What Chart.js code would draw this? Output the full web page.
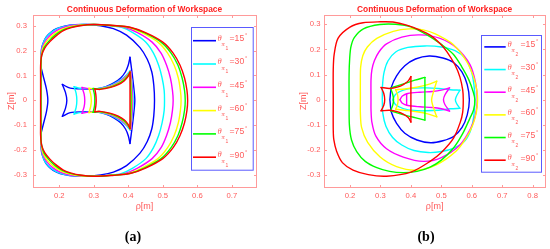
<!DOCTYPE html>
<html><head><meta charset="utf-8">
<script src="https://cdn.jsdelivr.net/npm/chart.js@4/dist/chart.umd.min.js"></script>
<style>
html,body{margin:0;padding:0;background:#fff}
body{width:550px;height:249px;position:relative;overflow:hidden}
#ca{position:absolute;left:0;top:0}
#cb{position:absolute;left:275px;top:0}
.cap{position:absolute;top:229px;width:40px;text-align:center;font:bold 14px "Liberation Serif","DejaVu Serif",serif;color:#000}
</style></head><body>
<canvas id="ca" width="275" height="249"></canvas>
<canvas id="cb" width="275" height="249"></canvas>
<div class="cap" style="left:113px">(a)</div>
<div class="cap" style="left:406px">(b)</div>
<script>
// ---------- tick labels ----------
const xTicksA = [0.2, 0.3, 0.4, 0.5, 0.6, 0.7];
const xTicksB = [0.2, 0.3, 0.4, 0.5, 0.6, 0.7, 0.8];
const yTicks = [-0.3, -0.2, -0.1, 0, 0.1, 0.2, 0.3];
const angles = [15, 30, 45, 60, 75, 90];

// ---------- panel (a): theta_pi1 ----------
const a15 = [
 [0.147,0.134],[0.147,0.17],[0.149,0.209],[0.155,0.235],[0.163,0.256],[0.175,0.273],[0.192,0.288],[0.215,0.298],[0.245,0.304],[0.28,0.305],[0.32,0.3],[0.357,0.288],[0.395,0.262],[0.434,0.212],[0.455,0.165],[0.468,0.115],[0.474,0.06],[0.476,0],[0.474,-0.06],[0.468,-0.115],[0.455,-0.165],[0.434,-0.212],[0.395,-0.262],[0.357,-0.288],[0.32,-0.3],[0.28,-0.305],[0.245,-0.304],[0.215,-0.298],[0.192,-0.288],[0.175,-0.273],[0.163,-0.256],[0.155,-0.235],[0.149,-0.209],[0.147,-0.17],[0.147,-0.134], null,
 [0.147,-0.134],[0.155,-0.09],[0.163,-0.045],[0.167,0],[0.163,0.045],[0.155,0.09],[0.147,0.134], null,
 [0.209,0.064],[0.218,0.032],[0.222,0],[0.218,-0.032],[0.209,-0.064], null,
 [0.209,-0.064],[0.232,-0.049],[0.27,-0.046],[0.306,-0.046],[0.335,-0.055],[0.358,-0.07],[0.378,-0.09],[0.392,-0.115],[0.4,-0.142],[0.405,-0.173], null,
 [0.405,-0.173],[0.411,-0.11],[0.416,-0.05],[0.419,0],[0.416,0.05],[0.411,0.11],[0.405,0.173], null,
 [0.405,0.173],[0.4,0.142],[0.392,0.115],[0.378,0.09],[0.358,0.07],[0.335,0.055],[0.306,0.046],[0.27,0.046],[0.232,0.049],[0.209,0.064]
];
const a30 = [
 [0.148,0],[0.148,0.1],[0.148,0.16],[0.149,0.2],[0.153,0.228],[0.162,0.252],[0.178,0.274],[0.2,0.291],[0.23,0.301],[0.265,0.305],[0.3,0.305],[0.34,0.301],[0.379,0.294],[0.413,0.272],[0.451,0.234],[0.473,0.19],[0.488,0.141],[0.498,0.09],[0.504,0.04],[0.505,0],[0.504,-0.04],[0.498,-0.09],[0.488,-0.141],[0.473,-0.19],[0.451,-0.234],[0.413,-0.272],[0.379,-0.294],[0.34,-0.301],[0.3,-0.305],[0.265,-0.305],[0.23,-0.301],[0.2,-0.291],[0.178,-0.274],[0.162,-0.252],[0.153,-0.228],[0.149,-0.2],[0.148,-0.16],[0.148,-0.1],[0.148,0], null,
 [0.243,0.055],[0.249,0.028],[0.251,0],[0.249,-0.028],[0.243,-0.055], null,
 [0.243,-0.055],[0.26,-0.049],[0.29,-0.047],[0.31,-0.047],[0.34,-0.056],[0.362,-0.069],[0.38,-0.085],[0.395,-0.102],[0.406,-0.12], null,
 [0.406,-0.12],[0.411,-0.07],[0.414,0],[0.411,0.07],[0.406,0.12], null,
 [0.406,0.12],[0.395,0.102],[0.38,0.085],[0.362,0.069],[0.34,0.056],[0.31,0.047],[0.29,0.047],[0.26,0.049],[0.243,0.055]
];
const a45 = [
 [0.148,0],[0.148,0.1],[0.148,0.16],[0.149,0.195],[0.154,0.223],[0.165,0.248],[0.181,0.27],[0.203,0.288],[0.232,0.3],[0.265,0.304],[0.3,0.305],[0.345,0.301],[0.389,0.294],[0.427,0.272],[0.469,0.234],[0.495,0.19],[0.511,0.141],[0.522,0.09],[0.528,0.04],[0.53,0],[0.528,-0.04],[0.522,-0.09],[0.511,-0.141],[0.495,-0.19],[0.469,-0.234],[0.427,-0.272],[0.389,-0.294],[0.345,-0.301],[0.3,-0.305],[0.265,-0.304],[0.232,-0.3],[0.203,-0.288],[0.181,-0.27],[0.165,-0.248],[0.154,-0.223],[0.149,-0.195],[0.148,-0.16],[0.148,-0.1],[0.148,0], null,
 [0.266,0.052],[0.272,0.026],[0.274,0],[0.272,-0.026],[0.266,-0.052], null,
 [0.266,-0.052],[0.285,-0.047],[0.312,-0.046],[0.342,-0.055],[0.364,-0.067],[0.382,-0.083],[0.396,-0.1],[0.407,-0.117], null,
 [0.407,-0.117],[0.41,-0.07],[0.412,0],[0.41,0.07],[0.407,0.117], null,
 [0.407,0.117],[0.396,0.1],[0.382,0.083],[0.364,0.067],[0.342,0.055],[0.312,0.046],[0.285,0.047],[0.266,0.052]
];
const a60 = [
 [0.147,0],[0.147,0.1],[0.147,0.16],[0.149,0.19],[0.155,0.218],[0.167,0.243],[0.185,0.266],[0.207,0.285],[0.234,0.297],[0.263,0.303],[0.3,0.305],[0.348,0.301],[0.398,0.294],[0.439,0.272],[0.486,0.234],[0.514,0.19],[0.533,0.141],[0.545,0.09],[0.551,0.04],[0.553,0],[0.551,-0.04],[0.545,-0.09],[0.533,-0.141],[0.514,-0.19],[0.486,-0.234],[0.439,-0.272],[0.398,-0.294],[0.348,-0.301],[0.3,-0.305],[0.263,-0.303],[0.234,-0.297],[0.207,-0.285],[0.185,-0.266],[0.167,-0.243],[0.155,-0.218],[0.149,-0.19],[0.147,-0.16],[0.147,-0.1],[0.147,0], null,
 [0.286,0.049],[0.291,0.025],[0.293,0],[0.291,-0.025],[0.286,-0.049], null,
 [0.286,-0.049],[0.3,-0.046],[0.314,-0.045],[0.345,-0.054],[0.367,-0.066],[0.384,-0.081],[0.397,-0.098],[0.406,-0.115], null,
 [0.406,-0.115],[0.408,-0.06],[0.41,0],[0.408,0.06],[0.406,0.115], null,
 [0.406,0.115],[0.397,0.098],[0.384,0.081],[0.367,0.066],[0.345,0.054],[0.314,0.045],[0.3,0.046],[0.286,0.049]
];
const a75 = [
 [0.147,0],[0.147,0.1],[0.147,0.15],[0.149,0.18],[0.156,0.212],[0.17,0.238],[0.188,0.262],[0.21,0.282],[0.235,0.294],[0.26,0.301],[0.3,0.305],[0.35,0.301],[0.402,0.294],[0.446,0.272],[0.495,0.234],[0.524,0.19],[0.544,0.141],[0.556,0.09],[0.563,0.04],[0.565,0],[0.563,-0.04],[0.556,-0.09],[0.544,-0.141],[0.524,-0.19],[0.495,-0.234],[0.446,-0.272],[0.402,-0.294],[0.35,-0.301],[0.3,-0.305],[0.26,-0.301],[0.235,-0.294],[0.21,-0.282],[0.188,-0.262],[0.17,-0.238],[0.156,-0.212],[0.149,-0.18],[0.147,-0.15],[0.147,-0.1],[0.147,0], null,
 [0.298,0.048],[0.302,0.024],[0.303,0],[0.302,-0.024],[0.298,-0.048], null,
 [0.298,-0.048],[0.316,-0.045],[0.347,-0.053],[0.369,-0.065],[0.386,-0.08],[0.398,-0.097],[0.405,-0.114], null,
 [0.405,-0.114],[0.407,-0.06],[0.408,0],[0.407,0.06],[0.405,0.114], null,
 [0.405,0.114],[0.398,0.097],[0.386,0.08],[0.369,0.065],[0.347,0.053],[0.316,0.045],[0.298,0.048]
];
const a90 = [
 [0.146,0],[0.146,0.1],[0.146,0.14],[0.149,0.18],[0.158,0.21],[0.173,0.236],[0.19,0.258],[0.212,0.28],[0.235,0.292],[0.26,0.3],[0.3,0.305],[0.35,0.302],[0.405,0.294],[0.45,0.272],[0.5,0.234],[0.53,0.19],[0.55,0.141],[0.563,0.09],[0.57,0.04],[0.572,0],[0.57,-0.04],[0.563,-0.09],[0.55,-0.141],[0.53,-0.19],[0.5,-0.234],[0.45,-0.272],[0.405,-0.294],[0.35,-0.302],[0.3,-0.305],[0.26,-0.3],[0.235,-0.292],[0.212,-0.28],[0.19,-0.258],[0.173,-0.236],[0.158,-0.21],[0.149,-0.18],[0.146,-0.14],[0.146,-0.1],[0.146,0], null,
 [0.303,0.046],[0.306,0.023],[0.307,0],[0.306,-0.023],[0.303,-0.046], null,
 [0.303,-0.046],[0.318,-0.044],[0.349,-0.052],[0.371,-0.063],[0.388,-0.078],[0.399,-0.095],[0.405,-0.113], null,
 [0.405,-0.113],[0.405,0],[0.405,0.113], null,
 [0.405,0.113],[0.399,0.095],[0.388,0.078],[0.371,0.063],[0.349,0.052],[0.318,0.044],[0.303,0.046]
];

// ---------- panel (b): theta_pi2 ----------
const b15 = [
 [0.331,0],[0.336,0.05],[0.353,0.095],[0.38,0.135],[0.415,0.162],[0.46,0.174],[0.505,0.166],[0.54,0.148],[0.568,0.11],[0.585,0.06],[0.592,0],[0.585,-0.06],[0.568,-0.11],[0.54,-0.146],[0.505,-0.163],[0.465,-0.171],[0.42,-0.16],[0.38,-0.133],[0.353,-0.094],[0.336,-0.05],[0.331,0]
];
const b30 = [
 [0.306,0],[0.307,0.06],[0.312,0.11],[0.325,0.155],[0.35,0.19],[0.39,0.208],[0.446,0.214],[0.5,0.21],[0.545,0.195],[0.578,0.165],[0.598,0.115],[0.607,0.06],[0.61,0],[0.607,-0.06],[0.598,-0.115],[0.578,-0.162],[0.545,-0.19],[0.5,-0.206],[0.457,-0.21],[0.41,-0.202],[0.37,-0.18],[0.34,-0.15],[0.318,-0.105],[0.308,-0.055],[0.306,0], null,
 [0.34,0],[0.35,0.022],[0.375,0.038],[0.41,0.046],[0.45,0.047],[0.49,0.045],[0.53,0.04],[0.561,0.038], null,
 [0.561,0.038],[0.55,0.015],[0.546,0],[0.55,-0.015],[0.561,-0.034], null,
 [0.561,-0.034],[0.53,-0.036],[0.49,-0.042],[0.45,-0.044],[0.41,-0.043],[0.375,-0.035],[0.35,-0.02],[0.34,0]
];
const b45 = [
 [0.269,0],[0.269,0.08],[0.272,0.12],[0.28,0.155],[0.295,0.19],[0.32,0.222],[0.37,0.249],[0.43,0.258],[0.496,0.244],[0.55,0.206],[0.594,0.14],[0.612,0.07],[0.618,0],[0.612,-0.06],[0.596,-0.115],[0.561,-0.18],[0.5,-0.23],[0.441,-0.245],[0.375,-0.228],[0.32,-0.195],[0.285,-0.145],[0.272,-0.09],[0.269,-0.04],[0.269,0], null,
 [0.364,0],[0.372,0.015],[0.39,0.025],[0.43,0.03],[0.47,0.033],[0.5,0.038],[0.527,0.047], null,
 [0.527,0.047],[0.512,0.02],[0.507,0],[0.512,-0.02],[0.527,-0.045], null,
 [0.527,-0.045],[0.5,-0.036],[0.47,-0.031],[0.43,-0.028],[0.39,-0.023],[0.372,-0.014],[0.364,0], null,
 [0.386,0.024],[0.386,-0.022]
];
const b60 = [
 [0.234,0],[0.234,0.08],[0.235,0.13],[0.242,0.175],[0.257,0.21],[0.288,0.244],[0.342,0.272],[0.395,0.282],[0.44,0.278],[0.48,0.262],[0.539,0.22],[0.583,0.153],[0.606,0.09],[0.616,0.04],[0.619,0],[0.615,-0.05],[0.603,-0.1],[0.58,-0.155],[0.548,-0.205],[0.485,-0.258],[0.419,-0.28],[0.353,-0.266],[0.299,-0.228],[0.258,-0.17],[0.238,-0.11],[0.234,-0.05],[0.234,0], null,
 [0.35,0.04],[0.356,0.02],[0.358,0],[0.356,-0.02],[0.35,-0.038], null,
 [0.35,-0.038],[0.38,-0.042],[0.42,-0.048],[0.455,-0.056],[0.485,-0.068], null,
 [0.485,-0.068],[0.475,-0.035],[0.468,0],[0.475,0.035],[0.485,0.074], null,
 [0.485,0.074],[0.455,0.06],[0.42,0.05],[0.38,0.043],[0.35,0.04]
];
const b75 = [
 [0.197,0],[0.197,0.1],[0.199,0.165],[0.203,0.21],[0.214,0.247],[0.244,0.282],[0.298,0.299],[0.35,0.3],[0.4,0.29],[0.457,0.255],[0.5,0.22],[0.54,0.18],[0.567,0.131],[0.59,0.08],[0.605,0.03],[0.61,0],[0.606,-0.04],[0.594,-0.073],[0.57,-0.135],[0.54,-0.192],[0.5,-0.24],[0.463,-0.268],[0.42,-0.285],[0.375,-0.29],[0.33,-0.285],[0.288,-0.27],[0.25,-0.245],[0.222,-0.206],[0.205,-0.16],[0.198,-0.1],[0.197,0], null,
 [0.333,0.046],[0.34,0.023],[0.343,0],[0.34,-0.023],[0.333,-0.044], null,
 [0.333,-0.044],[0.355,-0.052],[0.381,-0.061],[0.413,-0.071],[0.446,-0.081], null,
 [0.446,-0.081],[0.446,0.089], null,
 [0.446,0.089],[0.413,0.078],[0.381,0.065],[0.355,0.055],[0.333,0.046]
];
const b90 = [
 [0.145,0],[0.145,0.12],[0.148,0.18],[0.161,0.245],[0.2,0.289],[0.243,0.306],[0.3,0.31],[0.341,0.309],[0.386,0.297],[0.43,0.277],[0.463,0.257],[0.495,0.225],[0.518,0.191],[0.545,0.138],[0.561,0.09],[0.57,0.04],[0.572,0],[0.57,-0.05],[0.562,-0.09],[0.54,-0.153],[0.5,-0.21],[0.463,-0.245],[0.4,-0.288],[0.32,-0.304],[0.26,-0.298],[0.21,-0.28],[0.175,-0.25],[0.156,-0.205],[0.147,-0.16],[0.145,-0.12],[0.145,0], null,
 [0.302,0.049],[0.311,0.025],[0.314,0],[0.311,-0.022],[0.302,-0.044], null,
 [0.302,-0.044],[0.33,-0.042],[0.355,-0.047],[0.375,-0.057],[0.392,-0.072],[0.4,-0.089], null,
 [0.4,-0.089],[0.4,0.092], null,
 [0.4,0.092],[0.392,0.076],[0.375,0.06],[0.355,0.05],[0.33,0.045],[0.302,0.049]
];

// ---------- styling ----------
const COLORS = ['#0000ff', '#00ffff', '#ff00ff', '#ffff00', '#00ff00', '#ff0000'];
const AXIS = '#ff9a9a';
const TXT = '#ff5a5a';
const TITLE = '#ff1f1f';
Chart.defaults.font.family = '"Liberation Sans", Arial, sans-serif';

function segments(arr) {
  const segs = []; let cur = [];
  for (const p of arr) {
    if (p === null) { if (cur.length) segs.push(cur); cur = []; }
    else cur.push({x: p[0], y: p[1]});
  }
  if (cur.length) segs.push(cur);
  return segs;
}
function buildDatasets(series) {
  const ds = [];
  for (let i = series.length - 1; i >= 0; i--) {
    for (const seg of segments(series[i])) {
      ds.push({data: seg, showLine: true, borderColor: COLORS[i], backgroundColor: COLORS[i],
        borderWidth: 1.4, pointRadius: 0, tension: 0.3, fill: false, borderCapStyle: 'round', borderJoinStyle: 'round'});
    }
  }
  return ds;
}
function fmt(v) { return v === 0 ? '0' : String(Math.round(v * 10) / 10); }

const boxPlugin = {
  id: 'boxPlugin',
  beforeDatasetsDraw(chart) {
    const {ctx, chartArea: a, scales} = chart;
    const L = Math.floor(a.left) + 0.5, R = Math.floor(a.right) + 0.5, T = Math.floor(a.top) + 0.5, B = Math.floor(a.bottom) + 0.5;
    ctx.save();
    ctx.strokeStyle = AXIS; ctx.lineWidth = 1;
    ctx.strokeRect(L, T, R - L, B - T);
    const tl = 2.5;
    ctx.beginPath();
    for (const t of scales.x.ticks) {
      const px = Math.round(scales.x.getPixelForValue(t.value)) + 0.5;
      ctx.moveTo(px, B); ctx.lineTo(px, B - tl);
      ctx.moveTo(px, T); ctx.lineTo(px, T + tl);
    }
    for (const t of scales.y.ticks) {
      const py = Math.round(scales.y.getPixelForValue(t.value)) + 0.5;
      ctx.moveTo(L, py); ctx.lineTo(L + tl, py);
      ctx.moveTo(R, py); ctx.lineTo(R - tl, py);
    }
    ctx.stroke();
    ctx.restore();
  }
};

const legendPlugin = {
  id: 'mathLegend',
  afterDraw(chart, args, o) {
    const ctx = chart.ctx;
    ctx.save();
    ctx.strokeStyle = '#5a5aff'; ctx.lineWidth = 1;
    ctx.strokeRect(Math.floor(o.x) + 0.5, Math.floor(o.y) + 0.5, o.w, o.h);
    angles.forEach((a, i) => {
      const y = o.y0 + i * o.dy;
      ctx.strokeStyle = COLORS[i]; ctx.lineWidth = 1.6;
      ctx.beginPath(); ctx.moveTo(o.lx0, y); ctx.lineTo(o.lx1, y); ctx.stroke();
      ctx.fillStyle = TXT; ctx.textBaseline = 'alphabetic'; ctx.textAlign = 'left';
      ctx.font = 'italic 8.5px "Liberation Serif", serif';
      ctx.fillText('\u03b8', o.tx, y);
      ctx.font = 'italic 6.5px "Liberation Serif", serif';
      ctx.fillText('\u03c0', o.tx + 4, y + 5.5);
      ctx.font = '5px "Liberation Sans", sans-serif';
      ctx.fillText(o.sub, o.tx + 7.8, y + 9.3);
      ctx.font = '8.6px "Liberation Sans", sans-serif';
      ctx.fillText('=' + a, o.ex, y + 0.3);
      ctx.font = '5.5px "Liberation Sans", sans-serif';
      ctx.fillText('\u00b0', o.ex + 15.5, y - 3.6);
    });
    ctx.restore();
  }
};

function makeChart(id, series, xr, yr, xTicks, area, legend) {
  const canvasW = 275, canvasH = 249;
  return new Chart(document.getElementById(id), {
    type: 'scatter',
    data: {datasets: buildDatasets(series)},
    plugins: [boxPlugin, legendPlugin],
    options: {
      responsive: false, animation: false, devicePixelRatio: 1,
      layout: {padding: {left: 0, right: canvasW - area.right, top: 0, bottom: 0}},
      plugins: {
        legend: {display: false}, tooltip: {enabled: false},
        title: {display: true, fullSize: false, text: 'Continuous Deformation of Workspace', color: TITLE,
          font: {size: 8.4, weight: 'bold'}, padding: {top: area.top - 10.08, bottom: 0}},
        mathLegend: legend
      },
      scales: {
        x: {type: 'linear', min: xr[0], max: xr[1],
          afterBuildTicks: s => { s.ticks = xTicks.map(v => ({value: v})); },
          afterFit: s => { s.height = canvasH - area.bottom; },
          grid: {display: false, drawTicks: false}, border: {display: false},
          ticks: {color: TXT, font: {size: 7.7}, padding: 4.5, maxRotation: 0, autoSkip: false, callback: v => fmt(v)},
          title: {display: true, text: '\u03c1[m]', color: TXT, font: {size: 9}, padding: {top: 0, bottom: 36.6}}},
        y: {type: 'linear', min: yr[0], max: yr[1],
          afterBuildTicks: s => { s.ticks = yTicks.map(v => ({value: v})); },
          afterFit: s => { s.width = area.left; },
          grid: {display: false, drawTicks: false}, border: {display: false},
          ticks: {color: TXT, font: {size: 7.7}, padding: area.ytp, autoSkip: false, callback: v => fmt(v)},
          title: {display: true, text: 'Z[m]', color: TXT, font: {size: 9}, padding: {top: area.ytt, bottom: 0}}}
      }
    }
  });
}

makeChart('ca', [a15, a30, a45, a60, a75, a90], [0.124, 0.77], [-0.348, 0.343], xTicksA,
  {left: 33, right: 256, top: 15, bottom: 187, ytp: 6, ytt: 6.2},
  {x: 191, y: 27.3, w: 61.7, h: 142.7, y0: 40.7, dy: 23.3, lx0: 193, lx1: 216, tx: 217.6, ex: 229.6, sub: '1'});
makeChart('cb', [b15, b30, b45, b60, b75, b90], [0.1156, 0.8404], [-0.347, 0.337], xTicksB,
  {left: 49.3, right: 270, top: 15, bottom: 187, ytp: 3.8, ytt: 23},
  {x: 206.7, y: 35, w: 60, h: 136.7, y0: 46.9, dy: 22.66, lx0: 209.3, lx1: 230.7, tx: 232.6, ex: 245.6, sub: '2'});
</script>
</body></html>
